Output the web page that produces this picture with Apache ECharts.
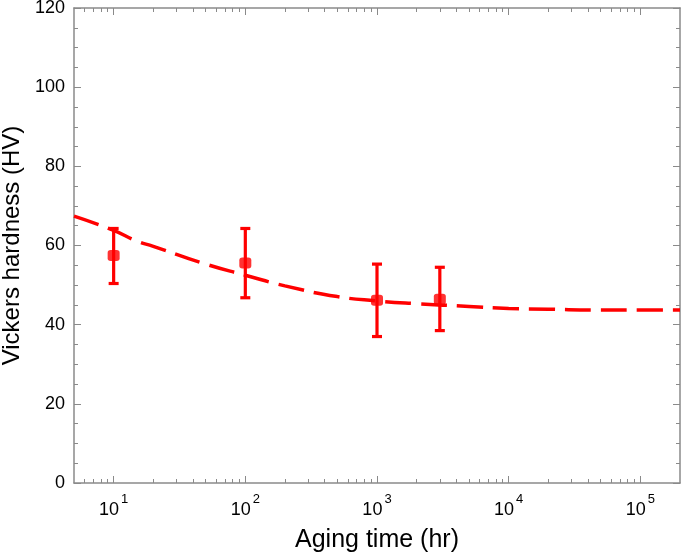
<!DOCTYPE html>
<html>
<head>
<meta charset="utf-8">
<script src="https://cdn.jsdelivr.net/npm/echarts@6/dist/echarts.min.js"></script>
<style>
html,body{margin:0;padding:0;background:#fff;}
#chart{width:685px;height:557px;}
</style>
</head>
<body>
<div id="chart"></div>
<script>
// Measured points (aging time in hr, hardness in HV)
var pointTimes = [10, 100, 1000, 3000];
var pointHV = [57.5, 55.6, 46.2, 46.4];
var errLow = [50.4, 46.8, 37.0, 38.5];
var errHigh = [64.3, 64.3, 55.3, 54.5];

// Fitted dashed curve
var curveTimes = [5, 10, 15, 20, 50, 100, 200, 500, 1000, 2000, 5000, 10000, 20000, 50000, 100000, 200000];
var curveHV = [67.4, 63.8, 61.1, 59.8, 55.3, 52.5, 49.8, 47.1, 46.0, 45.3, 44.6, 44.1, 43.9, 43.7, 43.7, 43.7];

// Axis ticks
var xMin = 5, xMax = 200000;
var xMajorTicks = [10, 100, 1000, 10000, 100000];
var xMinorTicks = [6, 7, 8, 9, 20, 30, 40, 50, 60, 70, 80, 90, 200, 300, 400, 500, 600, 700, 800, 900,
  2000, 3000, 4000, 5000, 6000, 7000, 8000, 9000, 20000, 30000, 40000, 50000, 60000, 70000, 80000, 90000];

var FONT = 'Liberation Sans, Arial, Helvetica, sans-serif';
var AX = '#8a8a8a';
var RED = '#ff0000';

var chart = echarts.init(document.getElementById('chart'), null, {renderer: 'canvas'});

function xAxisDef(pos, minor, main) {
  return {
    type: 'log', logBase: 10, min: xMin, max: xMax, position: pos,
    axisLine: {show: !minor, onZero: false, lineStyle: {color: AX, width: 1.5}},
    axisTick: {show: true, inside: true, length: minor ? 4 : 7,
      customValues: minor ? xMinorTicks : xMajorTicks,
      lineStyle: {color: AX, width: 1}},
    axisLabel: main ? {
      show: true, margin: 10,
      customValues: xMajorTicks,
      formatter: function (v) {
        var e = Math.round(Math.log10(v));
        return '{b|10}{s|' + e + '}';
      },
      rich: {
        b: {fontSize: 18, fontFamily: FONT, color: '#000', lineHeight: 26, verticalAlign: 'bottom'},
        s: {fontSize: 13, fontFamily: FONT, color: '#000', lineHeight: 13, verticalAlign: 'top', padding: [0, 0, 0, 2]}
      }
    } : {show: false},
    splitLine: {show: false},
    name: main ? 'Aging time (hr)' : '',
    nameLocation: 'middle', nameGap: 45,
    nameTextStyle: {fontSize: 25, fontFamily: FONT, color: '#000'}
  };
}

function yAxisDef(pos, main) {
  return {
    type: 'value', min: 0, max: 120, interval: 20, position: pos,
    axisLine: {show: true, lineStyle: {color: AX, width: 1.5}},
    axisTick: {show: true, inside: true, length: 7, lineStyle: {color: AX, width: 1}},
    minorTick: {show: true, splitNumber: 4, length: 4, lineStyle: {color: AX, width: 1}},
    axisLabel: main ? {show: true, fontSize: 18, fontFamily: FONT, color: '#000', margin: 9} : {show: false},
    splitLine: {show: false},
    name: main ? 'Vickers hardness (HV)' : '',
    nameLocation: 'middle', nameGap: 44,
    nameTextStyle: {fontSize: 24, fontFamily: FONT, color: '#000'}
  };
}

var curveData = curveTimes.map(function (t, i) { return [t, curveHV[i]]; });
var pointData = pointTimes.map(function (t, i) { return [t, pointHV[i]]; });
var errData = pointTimes.map(function (t, i) { return [t, errLow[i], errHigh[i]]; });

var option = {
  animation: false,
  backgroundColor: '#fff',
  grid: {left: 74, right: 5, top: 8, bottom: 74, containLabel: false, outerBoundsMode: 'none'},
  xAxis: [
    xAxisDef('bottom', false, true),
    xAxisDef('top', false, false),
    xAxisDef('bottom', true, false),
    xAxisDef('top', true, false)
  ],
  yAxis: [
    yAxisDef('left', true),
    yAxisDef('right', false)
  ],
  series: [
    {
      type: 'line', xAxisIndex: 0, yAxisIndex: 0,
      data: curveData, smooth: true, showSymbol: false, symbol: 'none',
      lineStyle: {color: RED, width: 3.5, type: [26, 10]},
      z: 2
    },
    {
      type: 'custom', xAxisIndex: 0, yAxisIndex: 0,
      data: errData,
      encode: {x: 0, y: [1, 2]},
      renderItem: function (params, api) {
        var x = api.value(0);
        var lo = api.coord([x, api.value(1)]);
        var hi = api.coord([x, api.value(2)]);
        var w = 5;
        var st = {stroke: RED, lineWidth: 3.2};
        return {
          type: 'group',
          children: [
            {type: 'line', shape: {x1: lo[0], y1: lo[1], x2: hi[0], y2: hi[1]}, style: st},
            {type: 'line', shape: {x1: lo[0] - w, y1: lo[1], x2: lo[0] + w, y2: lo[1]}, style: st},
            {type: 'line', shape: {x1: hi[0] - w, y1: hi[1], x2: hi[0] + w, y2: hi[1]}, style: st}
          ]
        };
      },
      z: 3
    },
    {
      type: 'scatter', xAxisIndex: 0, yAxisIndex: 0,
      data: pointData, symbol: 'roundRect', symbolSize: [12, 11],
      itemStyle: {color: RED},
      z: 4
    }
  ]
};
chart.setOption(option);
</script>
</body>
</html>
